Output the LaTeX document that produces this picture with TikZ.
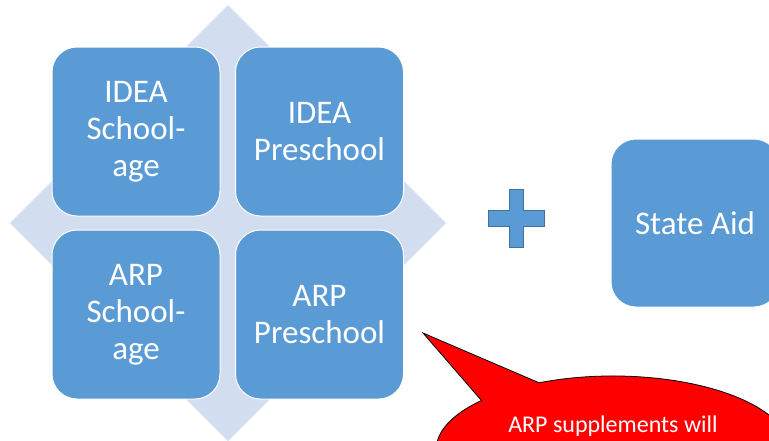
\documentclass[tikz,border=0pt]{standalone}
\usepackage{fontspec}
\setmainfont{Carlito}
\definecolor{boxblue}{HTML}{5B9BD5}
\definecolor{plusedge}{HTML}{41719C}
\definecolor{diamondfill}{HTML}{D2DEEF}
\begin{document}
\begin{tikzpicture}[x=1pt,y=-1pt,
  quadbox/.style={draw=white, line width=1pt, fill=boxblue, rounded corners=25pt,
    minimum width=168pt, minimum height=169pt, inner sep=0pt, align=center,
    text=white, font=\fontsize{33}{37}\selectfont},
  bubble/.style={fill=red, draw=black, line width=0.8pt, line join=miter},
  bubbletext/.style={text=white, font=\fontsize{24}{28}\selectfont, inner sep=0pt}]
\useasboundingbox (0,0) rectangle (769,440);
\clip (0,0) rectangle (769,440);
% background diamond
\fill[diamondfill] (228,5) -- (446,223) -- (228,441) -- (10,223) -- cycle;
% quadrant boxes
\node[quadbox] (ideaS) at (136,131.5) {IDEA\\School-\\age};
\node[quadbox] (ideaP) at (319.5,131.5) {IDEA\\Preschool};
\node[quadbox] (arpS) at (136,314.5) {ARP\\School-\\age};
\node[quadbox] (arpP) at (319.5,314.5) {ARP\\Preschool};
% plus sign
\draw[fill=boxblue, draw=plusedge, line width=1pt]
  (509,189) -- (523,189) -- (523,210) -- (544,210) -- (544,226) -- (523,226)
  -- (523,247) -- (509,247) -- (509,226) -- (488,226) -- (488,210) -- (509,210) -- cycle;
% state aid
\node[quadbox, minimum height=168pt] (state) at (695,223) {State Aid};
% speech bubble
\coordinate (tip) at (423,333);
\coordinate (b1) at (539.04,382.76);
\coordinate (b2) at (481.46,400.48);
\draw[bubble] (b2) -- (tip) -- (b1) arc[start angle=-114.7, end angle=222, x radius=177, y radius=74] -- cycle;
\node[bubbletext, anchor=base] (note) at (613,432) {ARP supplements will};
\end{tikzpicture}
\end{document}
